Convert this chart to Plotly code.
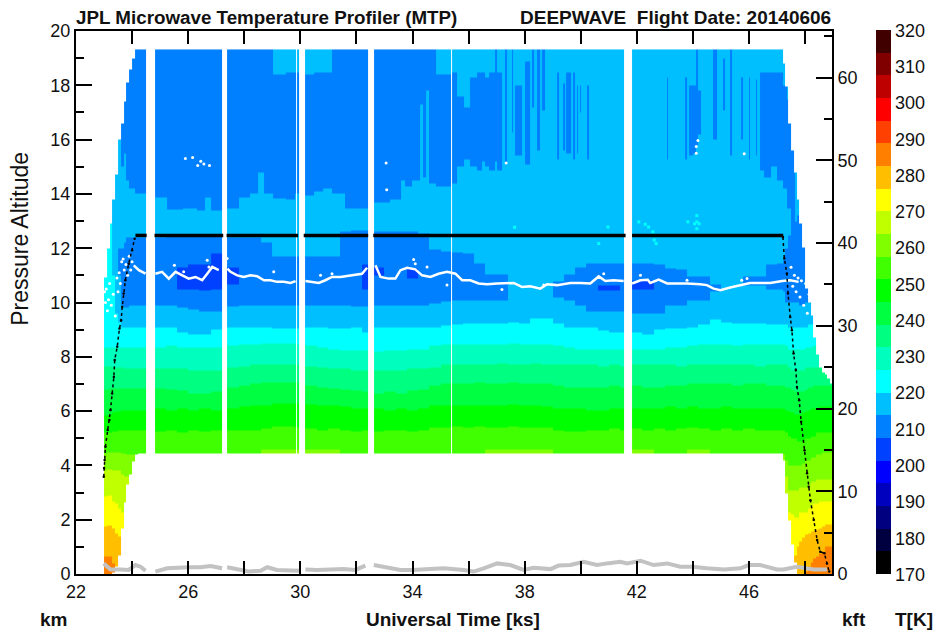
import bisect
import numpy as np
import plotly.graph_objects as go

FONT = "Liberation Sans"
# ---------------------------------------------------------------- colour key
colour_bands = ["rgb(0,0,0)", "rgb(0,0,64)", "rgb(0,0,128)", "rgb(0,0,191)", "rgb(0,0,255)", "rgb(0,64,255)",
                "rgb(0,128,255)", "rgb(0,191,255)", "rgb(0,255,255)", "rgb(0,255,191)", "rgb(0,255,128)", "rgb(0,255,64)",
                "rgb(0,255,0)", "rgb(64,255,0)", "rgb(128,255,0)", "rgb(191,255,0)", "rgb(255,255,0)", "rgb(255,191,0)",
                "rgb(255,128,0)", "rgb(255,64,0)", "rgb(255,0,0)", "rgb(191,0,0)", "rgb(128,0,0)", "rgb(64,0,0)"]
temp_ticks = list(range(170, 321, 10))

# ---------------------------------------------------------------- columns of the curtain (ks)
col_t = [23.0, 23.1, 23.2, 23.3, 23.4, 23.5, 23.6, 23.7, 23.8, 23.9, 24.0, 24.1,
         24.2, 24.82, 25.2, 25.6, 26.0, 26.4, 26.8, 27.39, 27.8, 28.2,
         28.6, 29.0, 29.4, 29.8, 30.16, 30.6, 31.0, 31.4, 31.8, 32.2,
         32.62, 33.0, 33.4, 33.8, 34.2, 34.6, 35.0, 35.4, 35.8, 36.2,
         36.6, 37.0, 37.4, 37.8, 38.2, 38.6, 39.0, 39.4, 39.8, 40.2,
         40.6, 41.0, 41.4, 41.83, 42.2, 42.6, 43.0, 43.4, 43.8, 44.2,
         44.6, 45.0, 45.4, 45.8, 46.2, 46.6, 47.0,
         47.2, 47.3, 47.4, 47.5, 47.6, 47.7, 47.8, 47.9, 48.0, 48.1, 48.2, 48.3, 48.4, 48.5, 48.6, 48.7, 48.8, 48.9]
x_end = 48.96
data_gaps = [(24.51, 24.82), (27.22, 27.39), (29.84, 29.9), (29.95, 30.16), (32.4, 32.62), (35.36, 35.4), (41.56, 41.6), (41.63, 41.83)]

top_km = [10.9, 12.0, 12.9, 13.8, 14.7, 16.0, 16.6, 17.4, 18.1, 18.6, 19.0, 19.32,
          19.32, 19.32, 19.32, 19.32, 19.32, 19.32, 19.32, 19.32, 19.32, 19.32,
          19.32, 19.32, 19.32, 19.32, 19.32, 19.32, 19.32, 19.32, 19.32, 19.32,
          19.32, 19.32, 19.32, 19.32, 19.32, 19.32, 19.32, 19.32, 19.32, 19.32,
          19.32, 19.32, 19.32, 19.32, 19.32, 19.32, 19.32, 19.32, 19.32, 19.32,
          19.32, 19.32, 19.32, 19.32, 19.32, 19.32, 19.32, 19.32, 19.32, 19.32,
          19.32, 19.32, 19.32, 19.32, 19.32, 19.32, 19.32,
          18.8, 17.94, 16.6, 15.6, 14.8, 13.8, 12.9, 12.05, 10.5, 10.0, 9.5, 8.7, 8.1, 7.6, 7.45, 7.35, 7.2, 7.0]
bottom_km = [0, 0, 0, 0.05, 0.3, 0.7, 1.7, 2.65, 3.3, 3.7, 4.15, 4.4,
             4.45, 4.45, 4.45, 4.45, 4.45, 4.45, 4.45, 4.45, 4.45, 4.45,
             4.45, 4.45, 4.45, 4.45, 4.45, 4.45, 4.45, 4.45, 4.45, 4.45,
             4.45, 4.45, 4.45, 4.45, 4.45, 4.45, 4.45, 4.45, 4.45, 4.45,
             4.45, 4.45, 4.45, 4.45, 4.45, 4.45, 4.45, 4.45, 4.45, 4.45,
             4.45, 4.45, 4.45, 4.45, 4.45, 4.45, 4.45, 4.45, 4.45, 4.45,
             4.45, 4.45, 4.45, 4.45, 4.45, 4.45, 4.45,
             4.2, 2.98, 1.95, 1.1, 0.45, 0, 0, 0, 0, 0, 0, 0, 0, 0, 0, 0, 0, 0]

# ---------------------------------------------------------------- heights (km) where the temperature band changes, bottom to top
_c = [0] * 57
b285_279 = [0.65, 0.65, 0.65, 0.4, 0, 0, 0, 0, 0, 0, 0, 0] + _c + \
           [0, 0, 0, 0, 0, 0, 0, 0, 0.1, 0.3, 0.45, 0.56, 0.65, 0.75, 0.85, 1.0, 1.0, 1.0]
b279_273 = [1.75, 1.8, 1.8, 1.7, 1.5, 1.4, 1.2, 0, 0, 0, 0, 0] + _c + \
           [0, 0, 0, 0, 0.7, 1.0, 1.2, 1.35, 1.45, 1.5, 1.55, 1.6, 1.65, 1.7, 1.75, 1.85, 1.85, 1.85]
b273_267 = [2.85, 2.9, 2.9, 2.7, 2.6, 2.4, 2.3, 2.2, 2.2, 2.2, 2.2, 2.2] + _c + \
           [0, 1.5, 2.3, 2.2, 2.1, 2.1, 2.3, 2.3, 2.3, 2.4, 2.5, 2.6, 2.6, 2.7, 2.7, 2.7, 2.7, 2.7]
b267_260 = [3.8, 3.85, 3.85, 3.8, 3.8, 3.8, 3.7, 3.6, 3.6, 3.6, 3.6, 3.6] + _c + \
           [0, 3.6, 3.1, 3.1, 3.1, 3.1, 3.2, 3.2, 3.2, 3.3, 3.4, 3.4, 3.5, 3.5, 3.5, 3.5, 3.5, 3.5]
b260_254 = [4.45, 4.5, 4.5, 4.5, 4.5, 4.5, 4.45, 4.45, 4.4, 4.4, 4.4, 4.4,
            4.4, 4.4, 4.4, 4.4, 4.4, 4.4, 4.4, 4.4, 4.4, 4.4,
            4.6, 4.6, 4.6, 4.6, 4.6, 4.6, 4.6, 4.4, 4.4, 4.4,
            4.4, 4.4, 4.4, 4.4, 4.4, 4.4, 4.4, 4.4, 4.4, 4.4,
            4.6, 4.6, 4.6, 4.6, 4.6, 4.6, 4.4, 4.4, 4.4, 4.4,
            4.4, 4.4, 4.4, 4.6, 4.6, 4.4, 4.4, 4.4, 4.6, 4.6,
            4.4, 4.4, 4.4, 4.4, 4.4, 4.4, 4.4,
            4.4, 4.2, 4.0, 4.0, 4.0, 4.0, 4.0, 4.1, 4.2, 4.2, 4.3, 4.3, 4.4, 4.4, 4.5, 4.5, 4.5, 4.5]
b254_248 = [5.2, 5.2, 5.2, 5.25, 5.25, 5.3, 5.3, 5.3, 5.3, 5.3, 5.3, 5.3,
            5.3, 5.25, 5.3, 5.2, 5.3, 5.25, 5.3, 5.3, 5.3, 5.3,
            5.35, 5.45, 5.45, 5.4, 5.35, 5.3, 5.35, 5.3, 5.25, 5.3,
            5.25, 5.3, 5.3, 5.25, 5.3, 5.4, 5.4, 5.45, 5.4, 5.45,
            5.4, 5.4, 5.45, 5.4, 5.4, 5.4, 5.3, 5.25, 5.25, 5.3,
            5.3, 5.35, 5.3, 5.35, 5.3, 5.35, 5.3, 5.35, 5.4, 5.35,
            5.3, 5.35, 5.3, 5.35, 5.3, 5.3, 5.3,
            5.3, 5.2, 5.1, 5.0, 5.0, 4.9, 4.9, 4.9, 5.0, 5.0, 5.1, 5.1, 5.2, 5.2, 5.2, 5.2, 5.2, 5.2]
b248_242 = [5.85, 5.85, 5.9, 5.95, 6.0, 6.0, 6.05, 6.05, 6.05, 6.05, 6.05, 6.05,
            6.05, 6.1, 6.05, 6.1, 6.05, 6.1, 6.05, 6.1, 6.15, 6.2,
            6.2, 6.3, 6.3, 6.3, 6.25, 6.2, 6.2, 6.15, 6.1, 6.1,
            6.1, 6.05, 6.1, 6.05, 6.1, 6.2, 6.2, 6.2, 6.2, 6.2,
            6.2, 6.2, 6.25, 6.2, 6.2, 6.15, 6.1, 6.1, 6.1, 6.05,
            6.05, 6.1, 6.1, 6.1, 6.1, 6.1, 6.15, 6.1, 6.15, 6.1,
            6.1, 6.15, 6.1, 6.1, 6.1, 6.1, 6.1,
            6.1, 6.05, 6.0, 5.95, 5.9, 5.9, 5.9, 5.95, 6.0, 6.05, 6.1, 6.1, 6.1, 6.15, 6.15, 6.15, 6.15, 6.15]
b242_235 = [6.8, 6.8, 6.85, 6.85, 6.85, 6.85, 6.85, 6.85, 6.85, 6.85, 6.85, 6.85,
            6.85, 6.85, 6.8, 6.75, 6.65, 6.65, 6.7, 6.9, 6.95, 7.0,
            7.05, 7.05, 7.05, 7.05, 6.95, 6.9, 6.85, 6.8, 6.75, 6.7,
            6.65, 6.7, 6.65, 6.75, 6.8, 6.95, 7.0, 7.0, 7.0, 7.05,
            7.0, 7.0, 7.05, 7.0, 7.0, 7.0, 6.95, 6.9, 6.9, 6.9,
            6.9, 6.95, 6.9, 6.95, 6.9, 6.9, 6.95, 6.95, 7.0, 7.0,
            7.0, 7.0, 6.95, 7.0, 7.0, 6.95, 6.95,
            6.95, 6.9, 6.9, 6.8, 6.7, 6.7, 6.7, 6.7, 6.8, 6.9, 6.9, 6.95, 6.95, 6.95, 6.95, 6.95, 6.95, 6.95]
b235_229 = [7.65, 7.65, 7.65, 7.6, 7.6, 7.6, 7.6, 7.55, 7.55, 7.55, 7.55, 7.55,
            7.55, 7.55, 7.55, 7.55, 7.5, 7.5, 7.5, 7.6, 7.65, 7.7,
            7.7, 7.7, 7.7, 7.7, 7.65, 7.6, 7.55, 7.55, 7.5, 7.5,
            7.5, 7.5, 7.5, 7.55, 7.55, 7.6, 7.7, 7.7, 7.7, 7.7,
            7.7, 7.75, 7.7, 7.7, 7.75, 7.7, 7.7, 7.7, 7.7, 7.7,
            7.65, 7.7, 7.65, 7.7, 7.7, 7.7, 7.7, 7.65, 7.7, 7.7,
            7.7, 7.7, 7.7, 7.7, 7.65, 7.7, 7.7,
            7.7, 7.7, 7.6, 7.5, 7.5, 7.5, 7.5, 7.5, 7.6, 7.6, 7.6, 7.6, 7.6, 7.6, 7.6, 7.6, 7.6, 7.6]
b229_223 = [8.35, 8.35, 8.35, 8.35, 8.35, 8.35, 8.35, 8.35, 8.35, 8.35, 8.35, 8.35,
            8.35, 8.35, 8.4, 8.35, 8.35, 8.35, 8.35, 8.4, 8.45, 8.45,
            8.5, 8.5, 8.5, 8.45, 8.4, 8.35, 8.3, 8.25, 8.25, 8.25,
            8.2, 8.25, 8.25, 8.3, 8.3, 8.4, 8.45, 8.45, 8.45, 8.45,
            8.45, 8.45, 8.5, 8.45, 8.45, 8.45, 8.4, 8.35, 8.3, 8.3,
            8.3, 8.3, 8.3, 8.3, 8.3, 8.3, 8.35, 8.35, 8.4, 8.45,
            8.45, 8.45, 8.4, 8.45, 8.45, 8.45, 8.45,
            8.45, 8.4, 8.3, 8.3, 8.3, 8.3, 8.3, 8.3, 8.35, 8.35, 8.35, 8.4, 8.4, 8.4, 8.4, 8.4, 8.4, 8.4]
b223_217 = [99, 99, 13, 11, 9.6, 9.3, 9.1, 9.1, 9.1, 9.1, 9.1, 9.1,
            9.1, 9.1, 9.1, 8.9, 8.85, 8.85, 9.0, 9.1, 9.1, 9.1,
            9.1, 9.05, 9.05, 9.05, 9.1, 9.1, 9.05, 9.05, 9.1, 8.9,
            9.1, 9.1, 9.1, 9.1, 9.1, 9.1, 9.15, 9.2, 9.25, 9.25,
            9.25, 9.25, 9.3, 9.25, 9.4, 9.4, 9.25, 9.1, 9.1, 9.1,
            8.95, 8.9, 8.9, 8.9, 8.85, 9.0, 9.05, 9.05, 9.1, 9.2,
            9.35, 9.3, 9.25, 9.25, 9.25, 9.2, 9.2,
            9.2, 9.2, 9.1, 9.1, 9.1, 9.1, 9.1, 9.1, 9.1, 9.2, 9.2, 9.2, 9.2, 9.2, 9.2, 9.2, 9.2, 9.2]
b217_210 = [99, 99, 99, 99, 99, 11, 9.9, 9.8, 9.8, 9.9, 9.9, 9.9,
            9.9, 9.9, 9.9, 9.8, 9.75, 9.7, 9.7, 9.85, 9.9, 9.9,
            9.9, 9.9, 9.9, 9.9, 9.9, 9.9, 9.9, 9.9, 9.85, 9.85,
            9.9, 9.9, 9.9, 9.9, 9.9, 9.95, 10.05, 10.1, 10.1, 10.1,
            10.1, 10.1, 10.7, 10.7, 10.7, 10.7, 10.2, 10.1, 9.9, 9.7,
            9.7, 9.7, 9.7, 9.6, 9.6, 9.6, 9.9, 9.9, 10.1, 10.1,
            10.4, 10.6, 10.6, 10.65, 10.65, 10.5, 10.5,
            10.4, 10.0, 10.0, 10.0, 10.0, 10.0, 9.9, 9.9, 10.0, 99, 99, 99, 99, 99, 99, 99, 99, 99]
b210_204 = [99, 99, 99, 99, 99, 11, 10.8, 10.8, 10.8, 10.8, 10.8, 10.8,
            10.8, 10.8, 10.8, 10.5, 10.5, 10.45, 10.5, 10.7, 10.8, 10.8,
            10.8, 10.8, 10.8, 10.8, 10.8, 10.8, 10.8, 10.8, 10.8, 10.5,
            11.0, 10.9, 10.9, 10.9, 10.8, 10.8, 10.8, 10.8, 10.8, 10.8,
            10.7, 10.7, 10.7, 10.7, 10.7, 10.7, 10.7, 10.7, 10.7, 10.7,
            10.45, 10.45, 10.7, 10.5, 10.5, 10.7, 10.7, 10.7, 10.7, 10.7,
            10.7, 10.6, 10.6, 10.8, 10.8, 10.8, 10.8,
            10.8, 10.8, 11, 11, 11, 11, 11, 11, 11, 99, 99, 99, 99, 99, 99, 99, 99, 99]
b204_210 = [99, 99, 99, 99, 99, 11, 10.8, 10.8, 10.8, 10.8, 10.8, 10.8,
            10.8, 10.8, 10.8, 11.3, 11.4, 11.4, 11.8, 11.3, 10.8, 10.8,
            10.8, 10.8, 10.8, 10.8, 10.8, 10.8, 10.8, 10.8, 10.8, 11.4,
            11.3, 10.9, 10.9, 11.25, 10.8, 10.8, 10.8, 10.8, 10.8, 10.8,
            10.7, 10.7, 10.7, 10.7, 10.7, 10.7, 10.7, 10.7, 10.7, 10.7,
            10.65, 10.65, 10.7, 10.8, 10.8, 10.7, 10.7, 10.7, 10.7, 10.7,
            10.7, 10.6, 10.6, 10.8, 10.8, 10.8, 10.8,
            10.8, 10.8, 11, 11, 11, 11, 11, 11, 11, 99, 99, 99, 99, 99, 99, 99, 99, 99]
b210_217 = [99, 99, 99, 99, 99, 12, 12, 12.2, 12.4, 12.4, 12.4, 12.4,
            12.4, 12.4, 12.45, 12.5, 12.5, 12.5, 12.5, 12.4, 12.4, 12.4,
            12.2, 11.7, 11.7, 11.7, 11.7, 11.7, 11.7, 12.6, 12.65, 12.65,
            12.6, 12.6, 12.6, 12.6, 12.55, 11.95, 11.9, 11.85, 11.8, 11.45,
            11.05, 11.05, 10.7, 10.7, 10.7, 10.7, 10.75, 11.05, 11.3, 11.45,
            11.45, 11.45, 11.45, 11.45, 11.45, 11.4, 11.25, 11.2, 10.95, 10.95,
            10.7, 10.6, 10.6, 10.95, 10.95, 11.4, 11.45,
            11.6, 12.0, 12.5, 13, 13, 13.2, 13.2, 13, 12, 99, 99, 99, 99, 99, 99, 99, 99, 99]

# stratospheric streaks have their own, finer columns
streak_t = [23.0, 23.6, 23.7, 23.8, 23.9, 24.1, 24.82, 25.25, 25.8, 26.3, 26.6, 26.8, 27.39, 27.8, 28.2, 28.5, 28.7, 29.04,
            29.5, 29.8, 30.16, 30.5, 30.8, 31.13, 31.6, 32.1, 32.62, 33.2, 33.6, 33.75, 34.0, 34.28, 34.36, 34.5, 34.58,
            34.85, 35.4, 35.6, 35.85, 36.06, 36.3, 36.48, 36.6, 36.72, 36.96, 37.02, 37.2, 37.31, 37.37, 37.55, 37.6,
            37.67, 37.91, 38.03, 38.2, 38.26, 38.32, 38.44, 38.56, 38.62, 38.74, 39.15, 39.22, 39.37, 39.43, 39.48, 39.65,
            39.73, 39.78, 39.85, 39.9, 39.98, 40.02, 40.24, 40.29, 43.06, 43.11, 43.72, 43.78, 43.85, 44.0, 44.1, 44.2,
            44.3, 44.73, 44.87, 45.09, 45.13, 45.34, 45.41, 45.7, 45.8, 46.0, 46.05, 46.25, 46.3, 46.4, 46.55, 46.8, 47.0,
            47.2, 47.37, 47.5, 47.65]
b217_210_up = [19.4, 15.0, 15.5, 14.5, 14.2, 14.0, 13.9, 13.45, 13.5, 13.4, 13.9, 13.4, 13.5, 13.9, 14.0, 14.8, 14.0, 13.85,
               13.8, 14.0, 13.95, 14.1, 14.2, 14.0, 13.5, 13.5, 13.7, 13.8, 14.5, 14.3, 14.5, 17.3, 14.6, 17.8, 14.4,
               14.3, 14.4, 15.0, 15.3, 15.0, 14.9, 15.2, 15.0, 14.9, 15.2, 14.9, 19.4, 15.1, 19.4, 16.3, 19.4,
               15.4, 19.4, 15.1, 19.4, 17.2, 19.4, 15.6, 19.4, 17.1, 19.4, 15.3, 19.4, 15.6, 19.4, 15.5, 19.4,
               15.3, 19.4, 15.5, 19.4, 17.0, 19.4, 15.3, 19.4, 15.3, 19.4, 15.3, 19.4, 15.4, 15.5, 15.8, 16.2,
               19.4, 16.0, 19.4, 17.1, 19.4, 15.4, 19.4, 16.0, 19.4, 15.3, 19.4, 15.4, 19.4, 14.9, 14.6, 15.0, 14.5,
               14.2, 13.5, 13.0, 19.4]
b210_217_up = [19.4, 19.4, 19.4, 19.4, 19.4, 19.4, 19.4, 19.4, 19.4, 19.4, 19.4, 19.4, 19.4, 19.4, 19.4, 19.4, 19.4, 18.4,
               18.5, 18.5, 18.4, 18.5, 18.5, 19.4, 19.4, 19.4, 19.4, 19.4, 19.4, 19.4, 19.4, 19.4, 19.4, 19.4, 19.4,
               18.4, 18.5, 17.6, 17.2, 18.3, 18.5, 18.5, 18.3, 18.5, 19.4, 18.5, 19.4, 19.4, 19.4, 19.4, 19.4,
               18.0, 19.4, 18.9, 19.4, 19.4, 19.4, 19.4, 19.4, 19.4, 19.4, 18.5, 19.4, 18.1, 19.4, 18.5, 19.4,
               18.5, 19.4, 18.0, 19.4, 18.0, 19.4, 18.0, 19.4, 18.3, 19.4, 18.3, 19.4, 18.0, 18.0, 19.4, 17.8,
               19.4, 19.4, 19.4, 19.0, 19.4, 19.4, 19.4, 18.3, 19.4, 18.3, 19.4, 18.2, 19.4, 18.5, 18.5, 18.5, 18.5,
               18.0, 17.5, 16.0, 19.4]
# temperature (K) of each band between those heights, bottom to top
band_temps = [285, 279, 273, 267, 260, 254, 248, 242, 235, 229, 223, 217, 210, 204, 210, 217, 210, 217]

# ---------------------------------------------------------------- overlaid series
cruise_t = [24.12, 24.52, None, 24.8, 27.25, None, 27.37, 29.92, None, 30.12, 32.42, None, 32.6, 41.6, None, 41.83, 47.22]
cruise_km = [12.47, 12.47, None, 12.47, 12.47, None, 12.47, 12.47, None, 12.47, 12.47, None, 12.47, 12.47, None, 12.47, 12.47]
ascent_t = [22.99, 23.0, 23.02, 23.05, 23.13, 23.19, 23.23, 23.29, 23.35, 23.38, 23.47, 23.55, 23.61, 23.65, 23.7, 23.76, 23.88, 24.0, 24.09]
ascent_km = [3.58, 3.9, 4.2, 4.69, 5.3, 5.67, 6.04, 6.65, 7.26, 7.88, 8.37, 9.04, 9.35, 9.84, 10.33, 10.82, 11.43, 11.92, 12.35]
descent_t = [47.21, 47.26, 47.35, 47.39, 47.47, 47.53, 47.59, 47.67, 47.71, 47.79, 47.86, 47.98, 48.07, 48.13, 48.19, 48.31, 48.43, 48.54, 48.69, 48.78, 48.86]
descent_km = [12.41, 11.62, 11.07, 10.33, 9.47, 8.98, 8.12, 7.51, 6.89, 6.4, 5.61, 4.56, 3.71, 3.21, 2.72, 1.99, 1.25, 0.82, 0.76, 0.39, 0.09]

tropo_t = [24.06, 24.24, 24.48, None, 24.83, 25.07, 25.31, 25.55, 25.79, 26.02, 26.26, 26.5, 26.68, 26.86, 27.09, None,
           27.4, 27.51, 27.75, 27.98, 28.22, 28.46, 28.7, 28.93, 29.17, 29.41, 29.65, 29.83, None, 30.18, 30.42, 30.66, 30.89,
           31.13, 31.43, 31.79, 32.2, 32.38, None, 32.68, 32.86, 33.15, 33.39, 33.57, 33.81, 34.1, 34.34, 34.64, 34.93, 35.23,
           35.53, 35.77, 36.06, 36.36, 36.66, 37.02, 37.37, 37.61, 37.91, 38.2, 38.56, 38.8, 39.16, 39.63, 39.99, 40.34, 40.64,
           40.88, 41.17, 41.53, None, 41.83, 42.13, 42.39, 42.48, 42.78, 43.08, 43.43, 43.79, 44.26, 44.5, 44.74, 44.98, 45.33,
           45.69, 46.04, 46.4, 46.76, 47.18, 47.47, 47.77]
tropo_km = [11.37, 11.19, 11.06, None, 11.06, 11.13, 10.88, 11.13, 11.0, 10.88, 10.94, 10.82, 11.06, 11.31, 11.19, None,
            11.25, 11.13, 11.0, 10.94, 11.0, 10.97, 10.82, 10.82, 10.76, 10.76, 10.72, 10.79, None, 10.79, 10.76, 10.72, 10.82,
            10.94, 10.94, 11.0, 11.06, 11.28, None, 11.37, 10.94, 10.88, 10.88, 11.19, 11.28, 11.22, 11.0, 10.94, 11.06, 11.13,
            11.06, 10.82, 10.82, 10.7, 10.67, 10.7, 10.7, 10.72, 10.57, 10.6, 10.51, 10.67, 10.64, 10.72, 10.72, 10.7, 10.96,
            10.79, 10.82, 10.79, None, 10.7, 10.82, 10.84, 10.72, 10.84, 10.7, 10.7, 10.7, 10.67, 10.64, 10.51, 10.45, 10.55,
            10.64, 10.72, 10.72, 10.72, 10.79, 10.82, 10.76]
speck_t = [23.02, 23.05, 23.08, 23.12, 23.16, 23.2, 23.26, 23.33, 23.4, 23.46, 23.5, 23.54, 23.58, 23.63, 23.68, 23.72, 23.78, 23.84, 23.9, 23.95, 24.0,
           25.9, 26.16, 26.34, 26.45, 26.56, 26.76, 33.06, 33.08, 37.34, 44.18, 44.12, 44.12, 45.83,
           47.5, 47.56, 47.62, 47.68, 47.75, 47.82, 47.87, 47.95, 48.02, 48.08, 48.14, 48.2,
           25.51, 25.84, 26.68, 26.74, 27.39, 29.05, 30.72, 31.13, 34.04, 34.1, 34.52, 35.23, 37.19, 38.68, 40.82, 42.13, 43.79, 45.93, 45.74]
speck_km = [10.4, 10.0, 10.5, 9.7, 10.1, 10.7, 9.9, 10.3, 9.5, 10.9, 10.4, 11.1, 10.7, 11.5, 11.6, 11.2, 11.4, 11.0, 11.7, 11.2, 11.5,
            15.3, 15.34, 15.05, 15.2, 15.1, 15.05, 15.14, 14.15, 15.14, 15.97, 15.75, 15.5, 15.48,
            11.3, 10.6, 11.0, 10.4, 10.9, 10.2, 10.8, 9.9, 10.7, 9.6, 10.3, 10.4,
            11.37, 11.13, 11.56, 11.31, 11.62, 11.13, 11.0, 11.06, 11.58, 11.43, 11.31, 10.64, 10.48, 10.64, 11.06, 11.0, 10.82, 10.88, 10.82]
cyan_t = [37.64, 40.97, 40.64, 42.07, 42.3, 42.42, 42.57, 42.62, 42.69, 43.82, 44.14, 44.14, 44.14, 44.06, 44.22]
cyan_km = [12.77, 12.78, 12.17, 12.97, 12.88, 12.78, 12.6, 12.3, 12.17, 12.97, 13.2, 12.97, 12.72, 12.9, 12.9]

ground_t = [22.99, 23.23, 23.59, 23.88, 24.12, 24.3, 24.48, None, 24.83, 25.25, 26.02, 26.44, 26.8, 27.21, None, 27.39, 27.86, 28.16, 28.58, 28.82, 29.17,
            29.76, 29.98, None, 30.18, 30.6, 31.55, 31.96, 32.32, None, 32.62, 33.09, 33.57, 33.99, 34.52, 35.11, 35.83, 36.18, 36.54, 37.02, 37.49, 37.96,
            38.32, 38.92, 39.21, 39.63, 40.1, 40.58, 41.0, 41.41, 41.65, 42.13, 42.6, 43.08, 43.55, 43.97, 44.5, 45.1, 45.69, 45.99, 46.4, 47.0, 47.23, 47.71, 48.31, 48.78]
ground_km = [0.39, 0.17, 0.17, 0.15, 0.33, 0.27, 0.12, None, 0.09, 0.21, 0.25, 0.25, 0.29, 0.21, None, 0.25, 0.17, 0.09, 0.12, 0.25, 0.15,
             0.15, 0.12, None, 0.17, 0.15, 0.18, 0.15, 0.31, None, 0.33, 0.23, 0.15, 0.15, 0.18, 0.21, 0.15, 0.09, 0.21, 0.39, 0.33, 0.15,
             0.23, 0.18, 0.31, 0.33, 0.45, 0.33, 0.4, 0.45, 0.39, 0.49, 0.33, 0.39, 0.27, 0.27, 0.21, 0.17, 0.21, 0.33, 0.33, 0.17, 0.17, 0.27, 0.17, 0.17]

# ---------------------------------------------------------------- axes
x_ticks = list(range(22, 49, 2))
x_tick_text = [str(v) if (v - 22) % 4 == 0 else "" for v in x_ticks]

# ---------------------------------------------------------------- raster of the curtain
stack = [b285_279, b279_273, b273_267, b267_260, b260_254, b254_248, b248_242, b242_235, b235_229, b229_223,
         b223_217, b217_210, b210_204, b204_210, b210_217]

edges_t = sorted(set(col_t + streak_t + [v for g in data_gaps for v in g] + [x_end]))
mid_t = [(a + b) / 2 for a, b in zip(edges_t[:-1], edges_t[1:])]
edges_km = np.arange(0, 19.33, 0.04)
mid_km = (edges_km[:-1] + edges_km[1:]) / 2

z = np.full((len(mid_km), len(mid_t)), np.nan)
temps = np.array(band_temps, dtype=float)
for ix, tm in enumerate(mid_t):
    if any(a <= tm < b for a, b in data_gaps):
        continue
    i = bisect.bisect_right(col_t, tm) - 1
    j = bisect.bisect_right(streak_t, tm) - 1
    bounds = [s[i] for s in stack] + [b217_210_up[j], b210_217_up[j]]
    bounds = np.maximum.accumulate(bounds)
    idx = np.searchsorted(bounds, mid_km, side="right")
    col = temps[idx]
    col[(mid_km < bottom_km[i]) | (mid_km > top_km[i])] = np.nan
    z[:, ix] = col
z_rows = [[None if np.isnan(v) else float(v) for v in row] for row in z]

n = len(colour_bands)
scale = []
for k, c in enumerate(colour_bands):
    scale += [[k / n, c], [(k + 1) / n, c]]

# ---------------------------------------------------------------- figure
fig = go.Figure()
fig.add_trace(go.Heatmap(x=edges_t, y=edges_km.tolist(), z=z_rows, zmin=170, zmax=320, colorscale=scale, hoverinfo="skip",
                         zsmooth=False, xgap=0, ygap=0,
                         colorbar=dict(x=1.0582, xanchor="left", y=0.5, yanchor="middle", len=1.002, thickness=15, outlinewidth=0,
                                       xpad=0, ypad=0, tickvals=temp_ticks, ticks="",
                                       tickfont=dict(family=FONT, size=18, color="#111"), ticklabelposition="outside")))
fig.add_trace(go.Scatter(x=ground_t, y=ground_km, mode="lines", line=dict(color="#c2c2c2", width=4), hoverinfo="skip", showlegend=False))
fig.add_trace(go.Scatter(x=cyan_t, y=cyan_km, mode="markers", marker=dict(color="rgb(0,255,255)", size=3, symbol="square"), hoverinfo="skip", showlegend=False))
fig.add_trace(go.Scatter(x=tropo_t, y=tropo_km, mode="lines", line=dict(color="white", width=2.5), hoverinfo="skip", showlegend=False))
fig.add_trace(go.Scatter(x=speck_t, y=speck_km, mode="markers", marker=dict(color="white", size=3), hoverinfo="skip", showlegend=False))
fig.add_trace(go.Scatter(x=ascent_t, y=ascent_km, mode="lines+markers", line=dict(color="black", width=1.5, dash="dot"),
                         marker=dict(color="black", size=2.5), hoverinfo="skip", showlegend=False))
fig.add_trace(go.Scatter(x=descent_t, y=descent_km, mode="lines+markers", line=dict(color="black", width=1.5, dash="dot"),
                         marker=dict(color="black", size=2.5), hoverinfo="skip", showlegend=False))
fig.add_trace(go.Scatter(x=cruise_t, y=cruise_km, mode="lines", line=dict(color="black", width=3.5), hoverinfo="skip", showlegend=False))
fig.add_trace(go.Scatter(x=[None], y=[None], yaxis="y2", mode="lines", hoverinfo="skip", showlegend=False))

tick_font = dict(family=FONT, size=18, color="#111")
fig.update_layout(
    width=937, height=634, plot_bgcolor="white", paper_bgcolor="white", showlegend=False,
    margin=dict(l=75.5, r=105.3, t=30.5, b=60, pad=0, autoexpand=False),
    xaxis=dict(range=[22, x_end], tickmode="array", tickvals=x_ticks, ticktext=x_tick_text, ticks="inside", ticklen=13, tickwidth=1.5,
               tickcolor="black", showline=True, linecolor="black", linewidth=2, mirror="ticks", showgrid=False, zeroline=False,
               tickfont=tick_font, tickangle=0),
    yaxis=dict(range=[0, 20], dtick=2, ticks="inside", ticklen=16, tickwidth=1.5, tickcolor="black", showline=True, linecolor="black",
               linewidth=2, showgrid=False, zeroline=False, tickfont=tick_font,
               minor=dict(dtick=1, ticks="inside", ticklen=8, tickwidth=1.5, tickcolor="black", showgrid=False)),
    yaxis2=dict(range=[0, 65.62], overlaying="y", side="right", anchor="x", dtick=10, ticks="inside", ticklen=16, tickwidth=1.5, tickcolor="black",
                showline=True, linecolor="black", linewidth=2, showgrid=False, zeroline=False, tickfont=tick_font,
                minor=dict(dtick=5, ticks="inside", ticklen=8, tickwidth=1.5, tickcolor="black", showgrid=False)),
)

def note(text, px, py, size, bold=True, anchor="left", angle=0):
    fig.add_annotation(text=f"<b>{text}</b>" if bold else text, xref="paper", yref="paper",
                       x=(px - 75.5) / (937 - 75.5 - 105.3), y=1 - (py - 30.5) / (634 - 30.5 - 60), xanchor=anchor, yanchor="middle",
                       showarrow=False, textangle=angle, font=dict(family=FONT, size=size, color="#111"))

note("JPL Microwave Temperature Profiler (MTP)", 73, 17, 18.8)
note("DEEPWAVE&nbsp;&nbsp;Flight Date: 20140606", 833, 17, 19, anchor="right")
note("Universal Time [ks]", 453, 620, 19, anchor="center")
note("km", 53, 620, 19, anchor="center")
note("kft", 854, 620, 19, anchor="center")
note("T[K]", 914, 620, 19, anchor="center")
note("Pressure Altitude", 20, 239, 23, bold=False, anchor="center", angle=-90)

fig.write_html("out.html", config={"displayModeBar": False}, post_script="document.body.style.margin='0';")
